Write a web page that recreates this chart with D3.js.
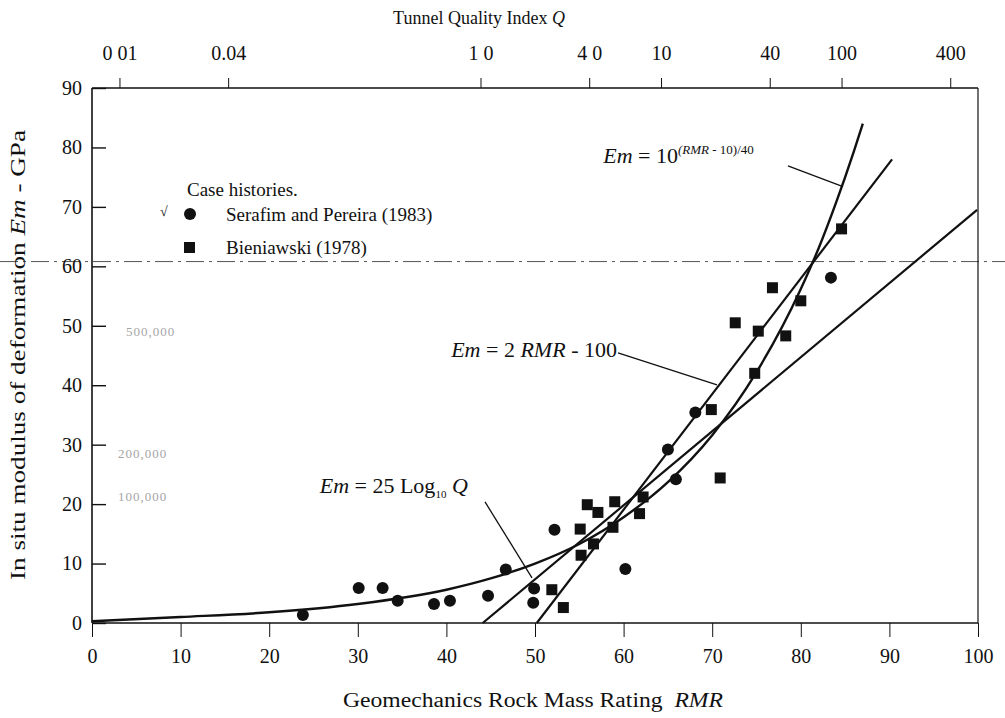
<!DOCTYPE html>
<html><head><meta charset="utf-8">
<script src="https://cdn.jsdelivr.net/npm/d3@7"></script>
<style>
body{margin:0;background:#fff}
svg{display:block}
text{font-family:"Liberation Serif","Times New Roman",serif;fill:#111}
</style>
</head><body>
<svg id="chart" width="1005" height="718"></svg>
<script>
// ---------- data ----------
const rmrTicks = [0,10,20,30,40,50,60,70,80,90,100];
const emTicks = [0,10,20,30,40,50,60,70,80,90];
const qTickValues = [0.01,0.04,1,4,10,40,100,400];
const qTickLabels = ["0 01","0.04","1 0","4 0","10","40","100","400"];

// Serafim and Pereira (1983) - circles
const serafimRMR = [23.8,30.1,32.8,34.5,38.6,40.4,44.7,46.7,49.9,49.8,52.2,60.2,65.0,65.9,68.1,83.4];
const serafimEm  = [1.35,5.9,5.9,3.75,3.2,3.75,4.6,9.0,5.8,3.4,15.7,9.1,29.2,24.2,35.4,58.1];

// Bieniawski (1978) - squares
const bieniawskiRMR = [51.9,53.2,55.1,55.2,55.9,56.6,57.1,58.8,59.0,61.8,62.2,69.9,70.9,72.6,74.8,75.2,76.8,78.3,80.0,84.6];
const bieniawskiEm  = [5.6,2.6,15.8,11.4,19.9,13.3,18.6,16.1,20.4,18.4,21.2,35.9,24.4,50.5,42.0,49.1,56.4,48.3,54.2,66.3];

// Curve Em = 10^((RMR-10)/40)
const curveRMR = [0,10,20,30,40,45,50,55,60,65,70,75,80,82,84,86,87];
const curveEm  = [0.3,1.0,1.8,3.2,5.6,7.5,10,13.3,17.8,23.7,31.6,42.2,56.2,63,70.8,79.4,84];

// Line Em = 2 RMR - 100
const lineARMR = [50.2,90.3];
const lineAEm  = [0,78];
// Line Em = 25 log10 Q
const lineBRMR = [44.1,99.9];
const lineBEm  = [0,69.5];

// annotation leaders (data coordinates)
const leaderExp = [[78.55,76.9],[84.76,73.4]];
const leaderLin = [[59.37,45.45],[70.54,40.07]];
const leaderLog = [[44.36,20.37],[49.66,7.58]];

// ---------- drawing ----------
const svg = d3.select("#chart");
const x = d3.scaleLinear().domain([0,100]).range([92,978]);
const y = d3.scaleLinear().domain([0,90]).range([623,88]);
const q = d3.scaleLog().domain([0.01,100]).range([x(3.1), x(84.6)]);

// scan artifact dash-dot line
svg.append("line")
  .attr("x1",0).attr("x2",1005)
  .attr("y1",y(60.8)).attr("y2",y(60.8))
  .attr("stroke","#555").attr("stroke-width",1)
  .attr("stroke-dasharray","18,5,3,5");

// frame
const frame = svg.append("g");
frame.append("line").attr("x1",x(0)).attr("x2",x(100)).attr("y1",y(0)).attr("y2",y(0)).attr("stroke","#111").attr("stroke-width",1.6);
frame.append("line").attr("x1",x(0)).attr("x2",x(100)).attr("y1",y(90)).attr("y2",y(90)).attr("stroke","#111").attr("stroke-width",1.4);
frame.append("line").attr("x1",x(0)).attr("x2",x(0)).attr("y1",y(0)).attr("y2",y(90)).attr("stroke","#111").attr("stroke-width",1.6);
frame.append("line").attr("x1",x(100)).attr("x2",x(100)).attr("y1",y(0)).attr("y2",y(90)).attr("stroke","#111").attr("stroke-width",1.2);

// bottom axis
const bottomAx = svg.append("g").attr("transform",`translate(0,${y(0)})`)
  .call(d3.axisBottom(x).tickValues(rmrTicks).tickSize(14).tickPadding(12).tickFormat(d3.format("d")));
bottomAx.select(".domain").remove();
bottomAx.selectAll("line").attr("stroke","#111");
bottomAx.selectAll("text").attr("font-size",20).style("font-family","Liberation Serif");

// left axis (ticks inward)
const leftAx = svg.append("g").attr("transform",`translate(${x(0)},0)`)
  .call(d3.axisLeft(y).tickValues(emTicks).tickSize(-14).tickPadding(10).tickFormat(d3.format("d")));
leftAx.select(".domain").remove();
leftAx.selectAll("line").attr("stroke","#111").attr("stroke-width",1.4);
leftAx.selectAll("text").attr("font-size",20).attr("x",-10).style("font-family","Liberation Serif");

// top axis Q
const topAx = svg.append("g").attr("transform",`translate(0,${y(90)})`)
  .call(d3.axisTop(q).tickValues(qTickValues).tickSize(10).tickPadding(18).tickFormat((d,i)=>qTickLabels[i]));
topAx.select(".domain").remove();
topAx.selectAll("line").attr("stroke","#111");
topAx.selectAll("text").attr("font-size",20).style("font-family","Liberation Serif");

// axis titles
svg.append("text").attr("x",479).attr("y",24).attr("text-anchor","middle").attr("font-size",18)
  .html('Tunnel Quality Index <tspan font-style="italic">Q</tspan>');
svg.append("text").attr("x",533).attr("y",707).attr("text-anchor","middle").attr("font-size",20)
  .attr("textLength",380).attr("lengthAdjust","spacingAndGlyphs")
  .html('Geomechanics Rock Mass Rating&#160;&#160;<tspan font-style="italic">RMR</tspan>');
svg.append("text").attr("transform","translate(25,355) rotate(-90)").attr("text-anchor","middle").attr("font-size",20)
  .attr("textLength",450).attr("lengthAdjust","spacingAndGlyphs")
  .html('In situ modulus of deformation <tspan font-style="italic">Em</tspan> - GPa');

// lines
const line = d3.line().x(d=>x(d[0])).y(d=>y(d[1]));
const curveLine = d3.line().x(d=>x(d[0])).y(d=>y(d[1])).curve(d3.curveMonotoneX);
svg.append("path").datum(curveRMR.map((r,i)=>[r,curveEm[i]])).attr("d",curveLine)
  .attr("fill","none").attr("stroke","#111").attr("stroke-width",2.4);
svg.append("path").datum(lineARMR.map((r,i)=>[r,lineAEm[i]])).attr("d",line)
  .attr("fill","none").attr("stroke","#111").attr("stroke-width",2.2);
svg.append("path").datum(lineBRMR.map((r,i)=>[r,lineBEm[i]])).attr("d",line)
  .attr("fill","none").attr("stroke","#111").attr("stroke-width",2.2);
[leaderExp,leaderLin,leaderLog].forEach(L=>{
  svg.append("path").datum(L).attr("d",line).attr("fill","none").attr("stroke","#111").attr("stroke-width",1.3);
});

// points
svg.append("g").selectAll("circle").data(serafimRMR.map((r,i)=>[r,serafimEm[i]])).join("circle")
  .attr("cx",d=>x(d[0])).attr("cy",d=>y(d[1])).attr("r",6).attr("fill","#111");
svg.append("g").selectAll("rect").data(bieniawskiRMR.map((r,i)=>[r,bieniawskiEm[i]])).join("rect")
  .attr("x",d=>x(d[0])-5.5).attr("y",d=>y(d[1])-5.5).attr("width",11).attr("height",11).attr("fill","#111");

// equation labels
svg.append("text").attr("x",x(57.7)).attr("y",y(77.4)).attr("font-size",22)
  .html('<tspan font-style="italic">Em</tspan> = 10<tspan font-size="13" dy="-9" font-style="italic">(RMR</tspan><tspan font-size="13"> - 10)/40</tspan>');
svg.append("text").attr("x",x(59.25)).attr("y",y(44.8)).attr("text-anchor","end").attr("font-size",22)
  .html('<tspan font-style="italic">Em</tspan> = 2 <tspan font-style="italic">RMR</tspan> - 100');
svg.append("text").attr("x",x(25.7)).attr("y",y(21.9)).attr("font-size",22)
  .html('<tspan font-style="italic">Em</tspan> = 25 Log<tspan font-size="11" dy="5">10</tspan><tspan dy="-5" font-style="italic"> Q</tspan>');

// legend
svg.append("text").attr("x",187).attr("y",196).attr("font-size",19).text("Case histories.");
svg.append("circle").attr("cx",190).attr("cy",214).attr("r",6).attr("fill","#111");
svg.append("text").attr("x",226).attr("y",221).attr("font-size",19).text("Serafim and Pereira (1983)");
svg.append("rect").attr("x",184).attr("y",242).attr("width",11).attr("height",11).attr("fill","#111");
svg.append("text").attr("x",226).attr("y",254).attr("font-size",19).text("Bieniawski (1978)");
svg.append("text").attr("x",160).attr("y",216).attr("font-size",14).text("\u221A");

// faint bleed-through text from the scan
const ghost = [["500,000",126,336],["200,000",118,458],["100,000",118,501]];
ghost.forEach(t=>svg.append("text").attr("x",t[1]).attr("y",t[2]).attr("font-size",13)
  .attr("letter-spacing",1).style("fill","#a5a5a5").text(t[0]));
</script>
</body></html>
